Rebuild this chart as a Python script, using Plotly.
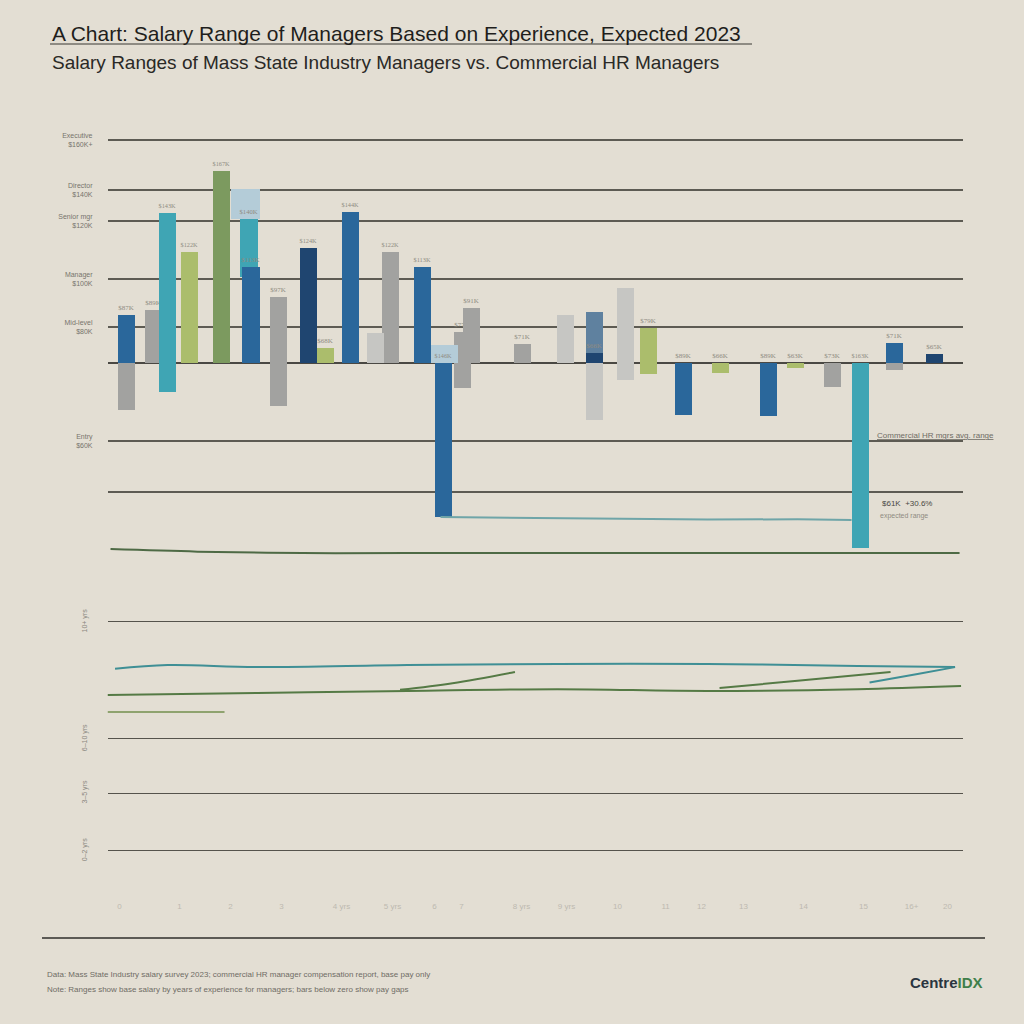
import plotly.graph_objects as go

# ---------------- data ----------------
title_text = "A Chart: Salary Range of Managers Based on Experience, Expected 2023"
subtitle_text = "Salary Ranges of Mass State Industry Managers vs. Commercial HR Managers"

# top panel: bar series (slot position, high value, low value)
blue_pos = [0.62, 4.77, 8.08, 10.48, 11.18, 19.18, 22.02, 26.22]
blue_high = [13.3, 26.7, 41.9, 26.7, 0.0, 0.0, 0.0, 5.6]
blue_low = [0.0, 0.0, 0.0, 0.0, -42.8, -14.4, -14.7, 0.0]

navy_pos = [6.68, 16.22, 27.55]
navy_high = [31.9, 2.8, 2.5]
navy_low = [0.0, 0.0, 0.0]

slate_pos = [16.22]
slate_high = [14.2]
slate_low = [2.8]

teal_pos = [1.98, 4.70, 25.08]
teal_high = [41.7, 40.0, 0.0]
teal_low = [-8.1, 23.9, -51.4]

pale_pos = [4.57, 11.18]
pale_high = [48.3, 5.0]
pale_low = [40.0, 0.0]

green_pos = [3.78]
green_high = [53.3]
green_low = [0.0]

olive_pos = [2.72, 7.25, 18.02, 20.42, 22.92]
olive_high = [30.8, 4.2, 9.7, 0.0, 0.0]
olive_low = [0.0, 0.0, -3.1, -2.8, -1.4]

gray_pos = [0.62, 1.52, 5.68, 9.42, 11.82, 12.12, 13.82, 24.15, 26.22]
gray_high = [0.0, 14.7, 18.3, 30.8, 8.6, 15.3, 5.3, 0.0, 0.0]
gray_low = [-13.1, 0.0, -11.9, 0.0, -6.9, 0.0, 0.0, -6.7, -1.9]

lgray_pos = [8.92, 15.25, 16.22, 17.25]
lgray_high = [8.3, 13.3, 0.0, 20.8]
lgray_low = [0.0, 0.0, -15.8, -4.7]

top_grid_vals = [62, 48, 39.4, 23.3, 10, 0, -21.7, -35.8]
top_grid_text = ["Executive<br>$160K+", "Director<br>$140K", "Senior mgr<br>$120K",
                 "Manager<br>$100K", "Mid-level<br>$80K", "", "Entry<br>$60K", ""]

# top panel trend lines
top_teal_x = [11.1, 14.0, 17.0, 20.0, 23.0, 24.8]
top_teal_y = [-42.8, -43.0, -43.4, -43.5, -43.4, -43.6]
top_green_x = [0.1, 3.0, 6.5, 10.0, 20.0, 28.4]
top_green_y = [-51.7, -52.4, -52.8, -52.8, -52.8, -52.8]

# bottom panel lines
low_grid_vals = [90.3, 56.9, 41.4, 24.9]
low_teal_x = [0.25, 2.0, 5.0, 10.0, 15.0, 20.0, 25.0, 28.25]
low_teal_y = [76.9, 78.0, 77.4, 78.0, 78.3, 78.3, 77.7, 77.4]
low_green_x = [0.0, 5.0, 10.0, 15.0, 20.0, 25.0, 28.45]
low_green_y = [69.4, 70.0, 70.6, 71.1, 70.6, 71.1, 72.0]
low_green2_x = [9.75, 11.5, 13.58]
low_green2_y = [70.9, 72.8, 76.0]
low_green3_x = [20.4, 23.0, 26.1]
low_green3_y = [71.4, 73.5, 76.0]
low_teal2_x = [25.4, 27.0, 28.25]
low_teal2_y = [73.0, 75.4, 77.4]
low_green4_x = [0.0, 3.9]
low_green4_y = [64.6, 64.6]

# bottom faint axis labels
low_x_ticks = [0.4, 2.4, 4.1, 5.8, 7.8, 9.5, 10.9, 11.8, 13.8, 15.3, 17.0, 18.6, 19.8, 21.2, 23.2, 25.2, 26.8, 28.0]
low_x_text = ["0", "1", "2", "3", "4 yrs", "5 yrs", "6", "7", "8 yrs", "9 yrs", "10", "11", "12", "13", "14", "15", "16+", "20"]

# ---------------- figure ----------------
BG = "#e3ded3"
fig = go.Figure()


def add_bars(pos, high, low, color, width=0.58, opacity=1.0, labels=True):
    heights = [h - l for h, l in zip(high, low)]
    text = []
    for h, l in zip(high, low):
        v = h if h != 0 else l
        text.append(f"${abs(v) * 2 + 60:.0f}K" if labels else "")
    fig.add_trace(go.Bar(
        x=pos, y=heights, base=low, width=width,
        marker=dict(color=color, line=dict(width=0)), opacity=opacity,
        text=text, textposition="outside", cliponaxis=False,
        textfont=dict(size=7, color="#8f8b82", family="Liberation Sans Narrow"),
        xaxis="x", yaxis="y", showlegend=False, hoverinfo="skip"))


add_bars(gray_pos, gray_high, gray_low, "#a2a2a0")
add_bars(lgray_pos, lgray_high, lgray_low, "#c6c6c3", labels=False)
add_bars(olive_pos, olive_high, olive_low, "#abbd6c")
add_bars(green_pos, green_high, green_low, "#7c9a5f")
add_bars(pale_pos, pale_high, pale_low, "#b4ccd8", width=0.97, labels=False)
add_bars(teal_pos, teal_high, teal_low, "#3fa5b4")
add_bars(blue_pos, blue_high, blue_low, "#2a679b")
add_bars(slate_pos, slate_high, slate_low, "#5f819f", labels=False)
add_bars(navy_pos, navy_high, navy_low, "#1f4570")

line_style = dict(mode="lines", showlegend=False, hoverinfo="skip")
fig.add_trace(go.Scatter(x=top_teal_x, y=top_teal_y, line=dict(color="#6fa5a8", width=2),
                         xaxis="x", yaxis="y", **line_style))
fig.add_trace(go.Scatter(x=top_green_x, y=top_green_y, line=dict(color="#4e6a45", width=2, shape="spline"),
                         xaxis="x", yaxis="y", **line_style))

fig.add_trace(go.Scatter(x=low_teal_x, y=low_teal_y, line=dict(color="#3f8f95", width=2, shape="spline"),
                         xaxis="x2", yaxis="y2", **line_style))
fig.add_trace(go.Scatter(x=low_green_x, y=low_green_y, line=dict(color="#557a45", width=2, shape="spline"),
                         xaxis="x2", yaxis="y2", **line_style))
fig.add_trace(go.Scatter(x=low_green2_x, y=low_green2_y, line=dict(color="#557a45", width=2, shape="spline"),
                         xaxis="x2", yaxis="y2", **line_style))
fig.add_trace(go.Scatter(x=low_green3_x, y=low_green3_y, line=dict(color="#557a45", width=2, shape="spline"),
                         xaxis="x2", yaxis="y2", **line_style))
fig.add_trace(go.Scatter(x=low_teal2_x, y=low_teal2_y, line=dict(color="#3f8f95", width=2, shape="spline"),
                         xaxis="x2", yaxis="y2", **line_style))
fig.add_trace(go.Scatter(x=low_green4_x, y=low_green4_y, line=dict(color="#8fa36f", width=2),
                         xaxis="x2", yaxis="y2", **line_style))

xdom = [0.105, 0.94]
fig.update_layout(
    width=1024, height=1024,
    margin=dict(l=0, r=0, t=0, b=0),
    paper_bgcolor=BG, plot_bgcolor=BG,
    barmode="overlay", bargap=0,
    font=dict(family="Liberation Sans Narrow, Liberation Sans, sans-serif", color="#2c2b28"),
    xaxis=dict(domain=xdom, range=[0, 28.5], showgrid=False, zeroline=False,
               showticklabels=False, anchor="y"),
    yaxis=dict(domain=[1 - 570 / 1024, 1 - 120 / 1024], range=[-57.5, 67.5],
               tickvals=top_grid_vals, ticktext=top_grid_text,
               tickfont=dict(size=7, color="#77746c"),
               showgrid=True, gridcolor="#5d5b53", gridwidth=1.6,
               zeroline=True, zerolinecolor="#4a4843", zerolinewidth=2,
               ticks="", ticklabelstandoff=14, anchor="x"),
    xaxis2=dict(domain=xdom, range=[0, 28.5], showgrid=False, zeroline=False,
                tickvals=low_x_ticks, ticktext=low_x_text,
                tickfont=dict(size=8, color="#bdb9b0"), ticks="",
                showticklabels=True, anchor="y2"),
    yaxis2=dict(domain=[1 - 900 / 1024, 1 - 590 / 1024], range=[10.86, 99.43],
                tickvals=low_grid_vals,
                ticktext=["10+ yrs", "6–10 yrs", "3–5 yrs", "0–2 yrs"],
                tickangle=-90, tickfont=dict(size=7, color="#8a877f"),
                showgrid=True, gridcolor="#55534c", gridwidth=1.4,
                zeroline=False, ticks="", ticklabelstandoff=18, anchor="x2"),
)

# bottom baseline
fig.add_shape(type="line", xref="paper", yref="paper",
              x0=42 / 1024, x1=985 / 1024, y0=1 - 938 / 1024, y1=1 - 938 / 1024,
              line=dict(color="#2f2e2b", width=1.6))
# title underline
fig.add_shape(type="line", xref="paper", yref="paper",
              x0=50 / 1024, x1=752 / 1024, y0=1 - 44 / 1024, y1=1 - 44 / 1024,
              line=dict(color="#3a3935", width=1.2))

annots = [
    dict(x=50, y=33, text=title_text, size=21, color="#1f1e1c"),
    dict(x=50, y=62, text=subtitle_text, size=19, color="#2a2926"),
    dict(x=45, y=974, text="Data: Mass State Industry salary survey 2023; commercial HR manager compensation report, base pay only",
         size=8, color="#6f6c65"),
    dict(x=45, y=989, text="Note: Ranges show base salary by years of experience for managers; bars below zero show pay gaps",
         size=8, color="#6f6c65"),
    dict(x=875, y=435, text="<u>Commercial HR mgrs avg. range</u>", size=8, color="#6f6c65"),
    dict(x=880, y=503, text="$61K  +30.6%", size=8, color="#4a4843"),
    dict(x=878, y=516, text="expected range", size=7, color="#8f8b82"),
]
for a in annots:
    fig.add_annotation(x=a["x"] / 1024, y=1 - a["y"] / 1024, xref="paper", yref="paper",
                       text=a["text"], showarrow=False, xanchor="left", yanchor="middle",
                       font=dict(size=a["size"], color=a["color"]))

fig.add_annotation(x=985 / 1024, y=1 - 982 / 1024, xref="paper", yref="paper",
                   text="<b>Centre</b><span style='color:#3f7f4a'><b>IDX</b></span>",
                   showarrow=False, xanchor="right", yanchor="middle",
                   font=dict(size=15, color="#2a3540", family="Liberation Sans"))

fig.write_html("out.html", config={"displayModeBar": False},
               post_script="document.body.style.margin='0';document.body.style.background='#e3ded3';")
